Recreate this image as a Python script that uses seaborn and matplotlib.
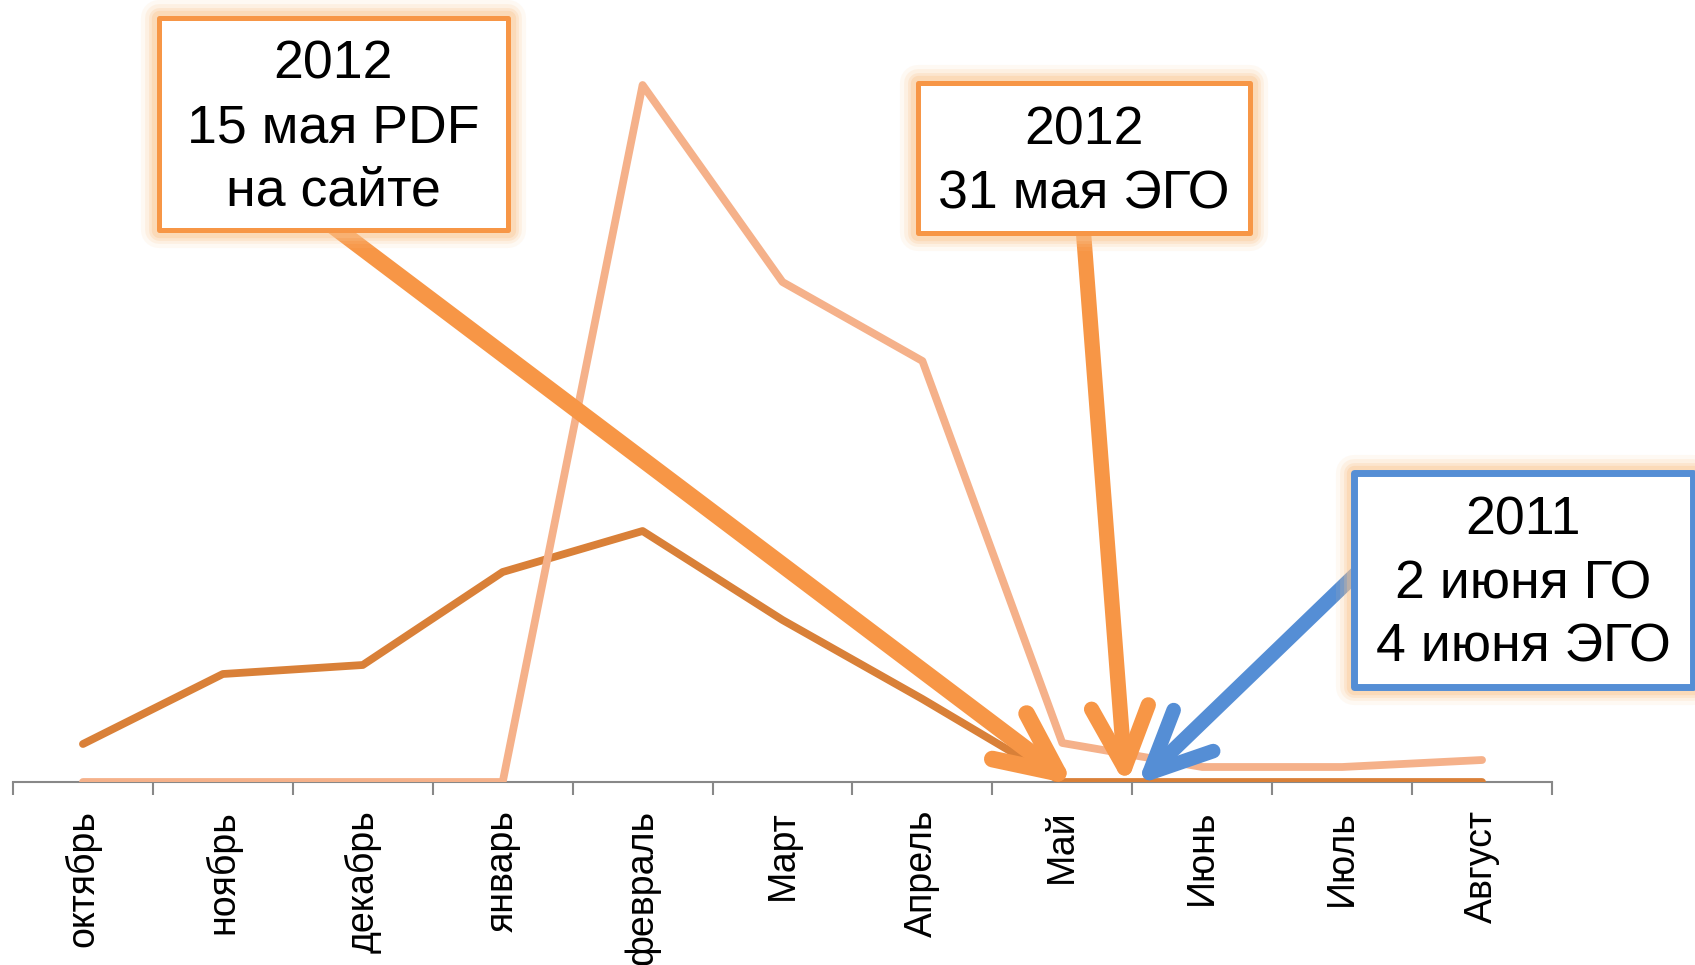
import matplotlib
matplotlib.use("Agg")
import matplotlib.pyplot as plt
import seaborn as sns
import pandas as pd
import numpy as np
from matplotlib.patches import Rectangle

# ---------------- data ----------------
months = ["октябрь", "ноябрь", "декабрь", "январь", "февраль", "Март",
          "Апрель", "Май", "Июнь", "Июль", "Август"]
series_dark = [38, 108, 117, 210, 251, 162, 83, 0, 0, 0, 0]
series_light = [0, 0, 0, 0, 697, 500, 421, 39, 15, 15, 22]

box_texts = ["2012\n15 мая PDF\nна сайте",
             "2012\n31 мая ЭГО",
             "2011\n2 июня ГО\n4 июня ЭГО"]

# ---------------- style ----------------
sns.set_theme(style="white")
plt.rcParams["font.family"] = ["Liberation Sans", "DejaVu Sans"]

W, H = 1695, 965
fig = plt.figure(figsize=(W / 100, H / 100), dpi=100)
fig.patch.set_facecolor("white")

ax_left, ax_right, ax_base = 13, 1552, 782
ax = fig.add_axes([ax_left / W, (H - ax_base) / H, (ax_right - ax_left) / W, ax_base / H])
ax.set_facecolor("white")

n = len(months)
df = pd.DataFrame({
    "pos": list(range(n)) * 2,
    "value": series_dark + series_light,
    "series": ["dark"] * n + ["light"] * n,
})

palette = {"dark": "#D98038", "light": "#F5B18A"}
sns.lineplot(data=df, x="pos", y="value", hue="series", palette=palette,
             hue_order=["dark", "light"], sort=False, legend=False,
             linewidth=5.6, solid_capstyle="round", solid_joinstyle="round",
             ax=ax, zorder=3)

ax.set_xlim(-0.5, n - 0.5)
ax.set_ylim(0, ax_base)
ax.set_xlabel("")
ax.set_ylabel("")
ax.set_yticks([])
for s in ["top", "right", "left"]:
    ax.spines[s].set_visible(False)
ax.spines["bottom"].set_color("#888888")
ax.spines["bottom"].set_linewidth(1.5)
ax.spines["bottom"].set_zorder(1)

ax.set_xticks(range(n))
ax.set_xticklabels(months, rotation=90, fontsize=27, color="black")
ax.set_xticks(np.arange(-0.5, n, 1), minor=True)
ax.tick_params(axis="x", which="major", length=0, pad=20)
ax.tick_params(axis="x", which="minor", length=9, width=1.5, color="#888888",
               direction="out", bottom=True)

# ---------------- arrows ----------------
def px2data(px, py):
    return ((px - ax_left) / ((ax_right - ax_left) / n) - 0.5, ax_base - py)

arrows = [
    ((333, 226), (1074, 785), "#F79646", 12),
    ((1083, 226), (1126, 786), "#F79646", 11),
    ((1362, 568), (1137, 785), "#558ED5", 10.5),
]
for (t, h, col, lw) in arrows:
    ax.annotate("", xy=px2data(*h), xycoords="data",
                xytext=px2data(*t), textcoords="data",
                arrowprops=dict(arrowstyle="->,head_length=4.4,head_width=2.05",
                                color=col, lw=lw, shrinkA=0, shrinkB=0,
                                mutation_scale=10, capstyle="round",
                                joinstyle="round"),
                annotation_clip=False, zorder=5)

# ---------------- boxes ----------------
boxes = [
    ((159, 18, 508, 230), "#F79646", 3.6, box_texts[0]),
    ((918, 83, 1250, 233), "#F79646", 3.6, box_texts[1]),
    ((1354, 473, 1693, 687), "#558ED5", 5.0, box_texts[2]),
]
for (x0, y0, x1, y1), col, lw, txt in boxes:
    fx, fy = x0 / W, (H - y1) / H
    fw, fh = (x1 - x0) / W, (y1 - y0) / H
    for glw, ga in [(26, 0.10), (20, 0.16), (15, 0.24), (11, 0.34)]:
        fig.add_artist(Rectangle((fx, fy), fw, fh, transform=fig.transFigure,
                                 facecolor="none", edgecolor="#FBC58F",
                                 lw=glw, alpha=ga, joinstyle="round", zorder=8))
    fig.add_artist(Rectangle((fx, fy), fw, fh, transform=fig.transFigure,
                             facecolor="white", edgecolor=col, lw=lw,
                             joinstyle="round", zorder=9))
    fig.text((x0 + x1) / 2 / W, (H - (y0 + y1) / 2) / H - 0.0045, txt,
             ha="center", va="center", fontsize=38.6, color="black",
             linespacing=1.35, zorder=10)

fig.savefig("out.png", dpi=100, facecolor="white")
